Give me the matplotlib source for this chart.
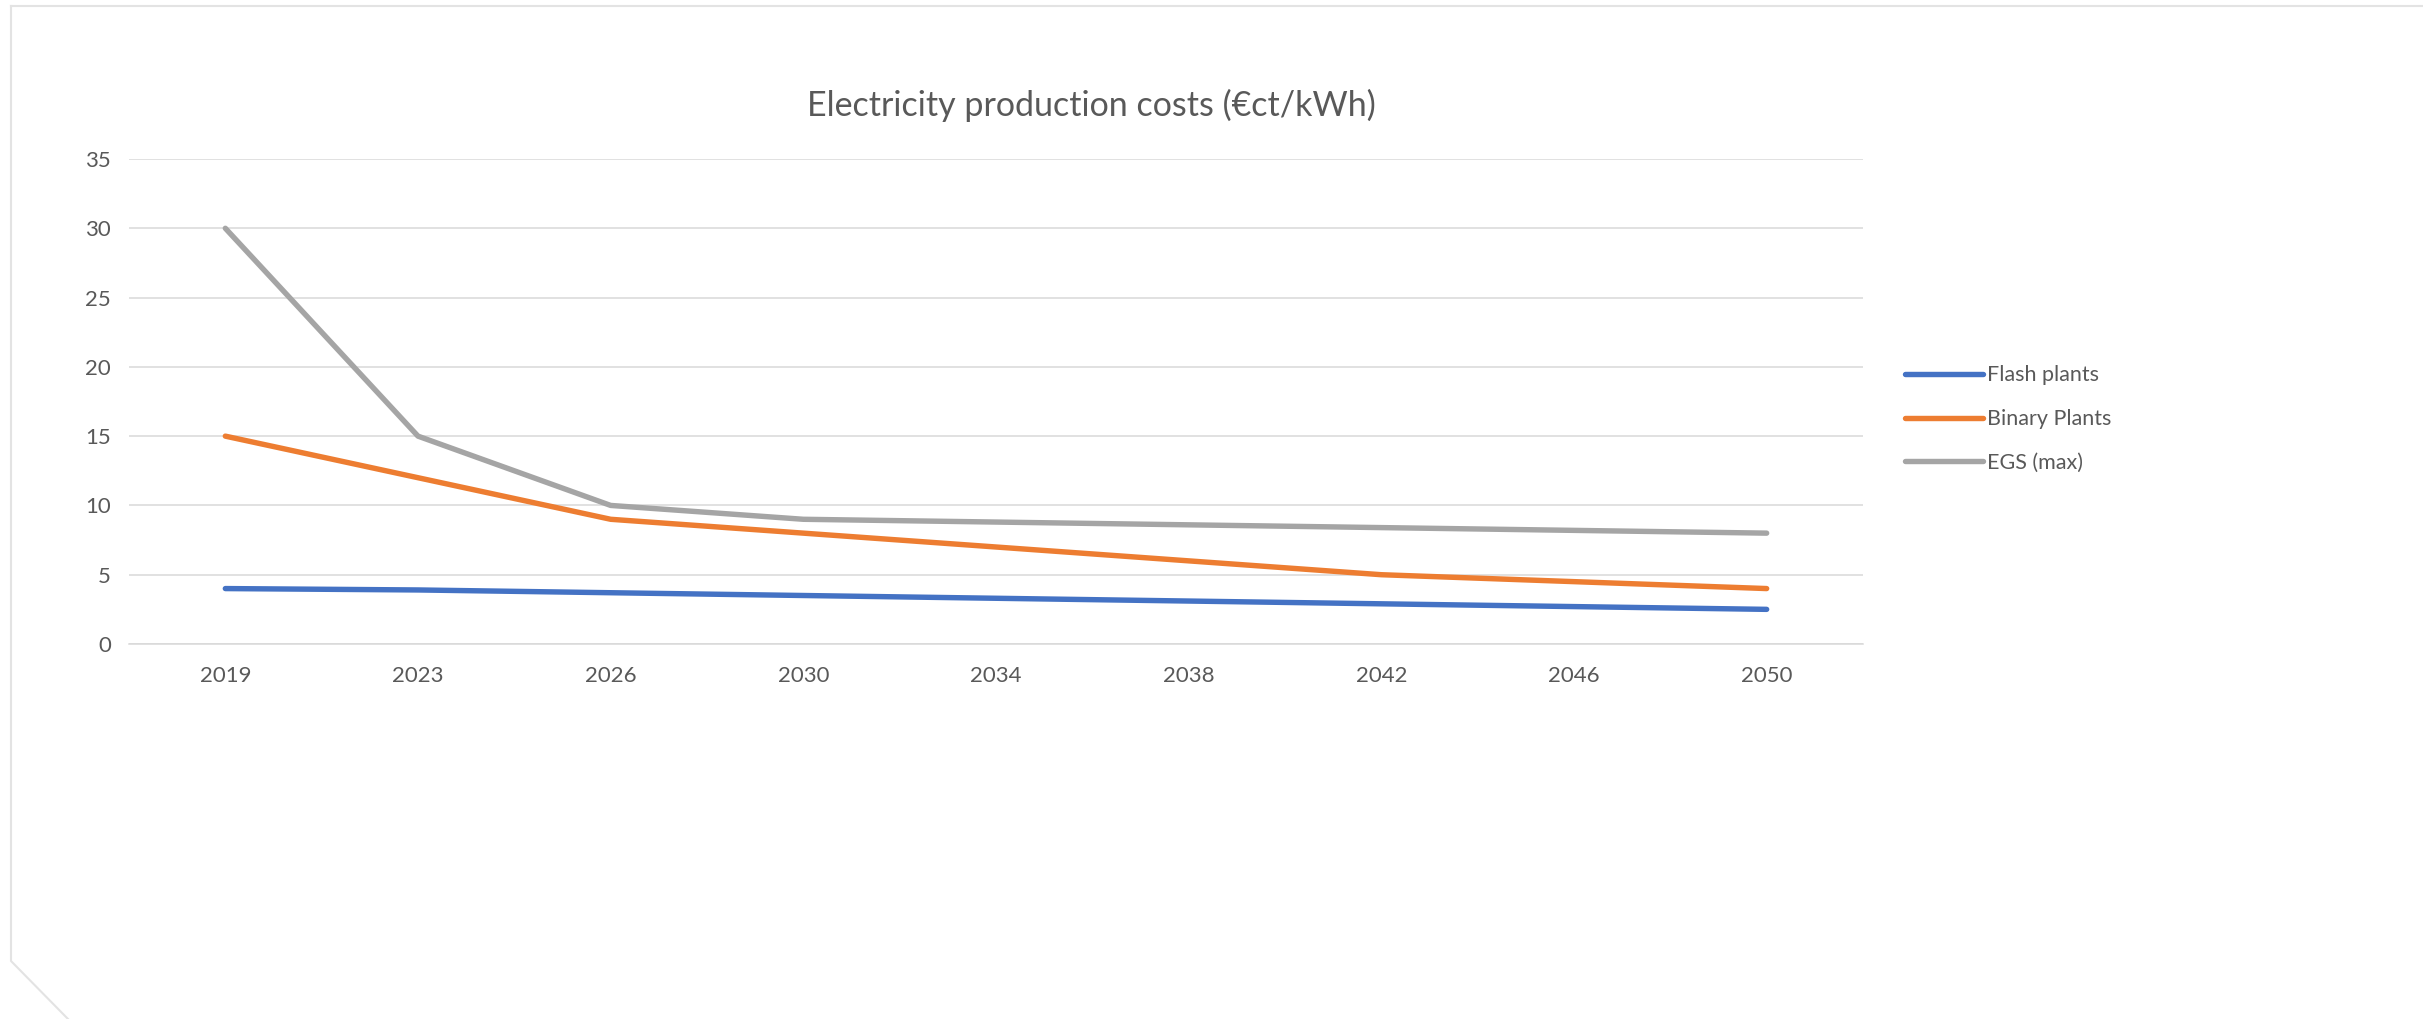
import matplotlib.pyplot as plt
from matplotlib.lines import Line2D

years = ["2019", "2023", "2026", "2030", "2034", "2038", "2042", "2046", "2050"]
flash_plants = [4, 3.9, 3.7, 3.5, 3.3, 3.1, 2.9, 2.7, 2.5]
binary_plants = [15, 12, 9, 8, 7, 6, 5, 4.5, 4]
egs_max = [30, 15, 10, 9, 8.8, 8.6, 8.4, 8.2, 8]
y_ticks = [0, 5, 10, 15, 20, 25, 30, 35]

plt.rcParams["font.family"] = ["Lato", "DejaVu Sans"]
text_color = "#595959"

W, H = 2423, 1019
fig = plt.figure(figsize=(W / 100, H / 100), dpi=100)
ax = fig.add_axes([129 / W, 1 - 644 / H, (1863 - 129) / W, (644 - 159) / H])

x = range(len(years))
ax.plot(x, flash_plants, color="#4472C4", lw=3.9, solid_capstyle="round", label="Flash plants")
ax.plot(x, binary_plants, color="#ED7D31", lw=3.9, solid_capstyle="round", label="Binary Plants")
ax.plot(x, egs_max, color="#A5A5A5", lw=3.9, solid_capstyle="round", label="EGS (max)")

ax.set_xlim(-0.5, len(years) - 0.5)
ax.set_ylim(0, 35)
ax.set_xticks(list(x))
ax.set_xticklabels(years)
ax.set_yticks(y_ticks)
ax.grid(axis="y", color="#D9D9D9", lw=1.1)
ax.set_axisbelow(True)
for s in ax.spines.values():
    s.set_visible(False)
ax.spines["bottom"].set_visible(True)
ax.spines["bottom"].set_color("#D9D9D9")
ax.spines["bottom"].set_linewidth(1.1)
ax.tick_params(length=0, labelsize=16, colors=text_color)
ax.tick_params(axis="x", pad=16)
ax.tick_params(axis="y", pad=13)

fig.text(1091 / W, 1 - 105 / H, "Electricity production costs (€ct/kWh)",
         ha="center", va="center", fontsize=24.5, color=text_color)

leg = ax.legend(loc="upper left", bbox_to_anchor=(1886 / W, 1 - 346 / H),
                bbox_transform=fig.transFigure, frameon=False, fontsize=15.5,
                handlelength=3.6, handletextpad=0.2, labelspacing=1.1)
for t in leg.get_texts():
    t.set_color(text_color)

# chart border with clipped corner
border = "#E3E3E3"
fig.add_artist(Line2D([11 / W, 1], [1 - 6 / H, 1 - 6 / H], transform=fig.transFigure, color=border, lw=1.5))
fig.add_artist(Line2D([11 / W, 11 / W, 68 / W], [1 - 6 / H, 1 - 961 / H, 0], transform=fig.transFigure, color=border, lw=1.5))

fig.savefig("out.png", dpi=100, facecolor="white")
